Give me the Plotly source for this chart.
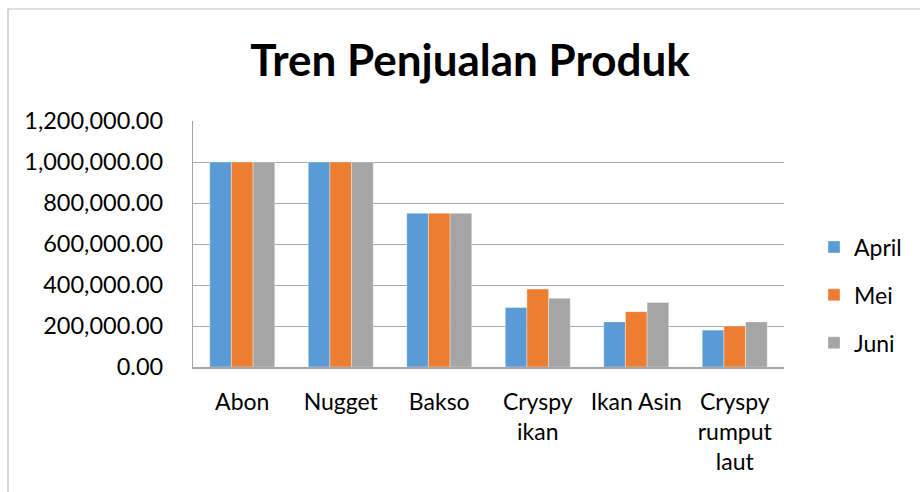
import plotly.graph_objects as go

categories = ["Abon", "Nugget", "Bakso", "Cryspy<br>ikan", "Ikan Asin", "Cryspy<br>rumput<br>laut"]
april = [1000000, 1000000, 750000, 290000, 220000, 180000]
mei = [1000000, 1000000, 750000, 380000, 270000, 200000]
juni = [1000000, 1000000, 750000, 335000, 315000, 220000]
series_names = ["April", "Mei", "Juni"]
series_colors = ["#5B9BD5", "#ED7D31", "#A5A5A5"]
y_ticks = [0, 200000, 400000, 600000, 800000, 1000000, 1200000]

W, H = 920, 492
L, R, T, B = 193, 920 - 784, 121, 492 - 367
FONT = "Lato"

fig = go.Figure()
for name, vals, col in zip(series_names, [april, mei, juni], series_colors):
    fig.add_trace(go.Bar(
        x=categories, y=vals, name=name, legendgroup=name,
        marker=dict(color=col, line=dict(color="rgba(255,255,255,0.6)", width=0.6)),
    ))

pw, ph = W - L - R, H - T - B
def px(x):
    return (x - L) / pw
def py(y):
    return (H - B - y) / ph

fig.add_shape(type="rect", xref="paper", yref="paper",
              x0=px(8), x1=px(930), y0=py(9), y1=py(510),
              line=dict(color="#BFBFBF", width=1.2), fillcolor="rgba(0,0,0,0)", layer="below")

fig.update_layout(
    width=W, height=H,
    margin=dict(l=L, r=R, t=T, b=B, pad=0, autoexpand=False),
    paper_bgcolor="white", plot_bgcolor="white",
    font=dict(family=FONT, size=23, color="#000000"),
    title=dict(text="<b>Tren Penjualan Produk</b>", x=470 / W, xanchor="center",
               y=1 - 61 / H, yanchor="middle", font=dict(family=FONT, size=44, color="#000000")),
    barmode="group", bargap=0.34, bargroupgap=0,
    showlegend=True,
    legend=dict(x=px(814), xanchor="left", y=py(295), yanchor="middle",
                font=dict(family=FONT, size=23), tracegroupgap=15,
                bgcolor="rgba(0,0,0,0)", itemclick=False),
    xaxis=dict(showline=True, linecolor="#A6A6A6", linewidth=1.5, ticks="",
               tickfont=dict(family=FONT, size=23), ticklabelstandoff=14, tickangle=0),
    yaxis=dict(range=[0, 1200000], tickvals=y_ticks, tickformat=",.2f",
               showgrid=True, gridcolor="#A9A9A9", gridwidth=1.3,
               showline=True, linecolor="#A6A6A6", linewidth=1.3, ticks="",
               zeroline=False, tickfont=dict(family=FONT, size=23.5), ticklabelstandoff=24),
)

fig.write_html("out.html", config={"displayModeBar": False},
               post_script="document.body.style.margin='0';document.body.style.overflow='hidden';")
